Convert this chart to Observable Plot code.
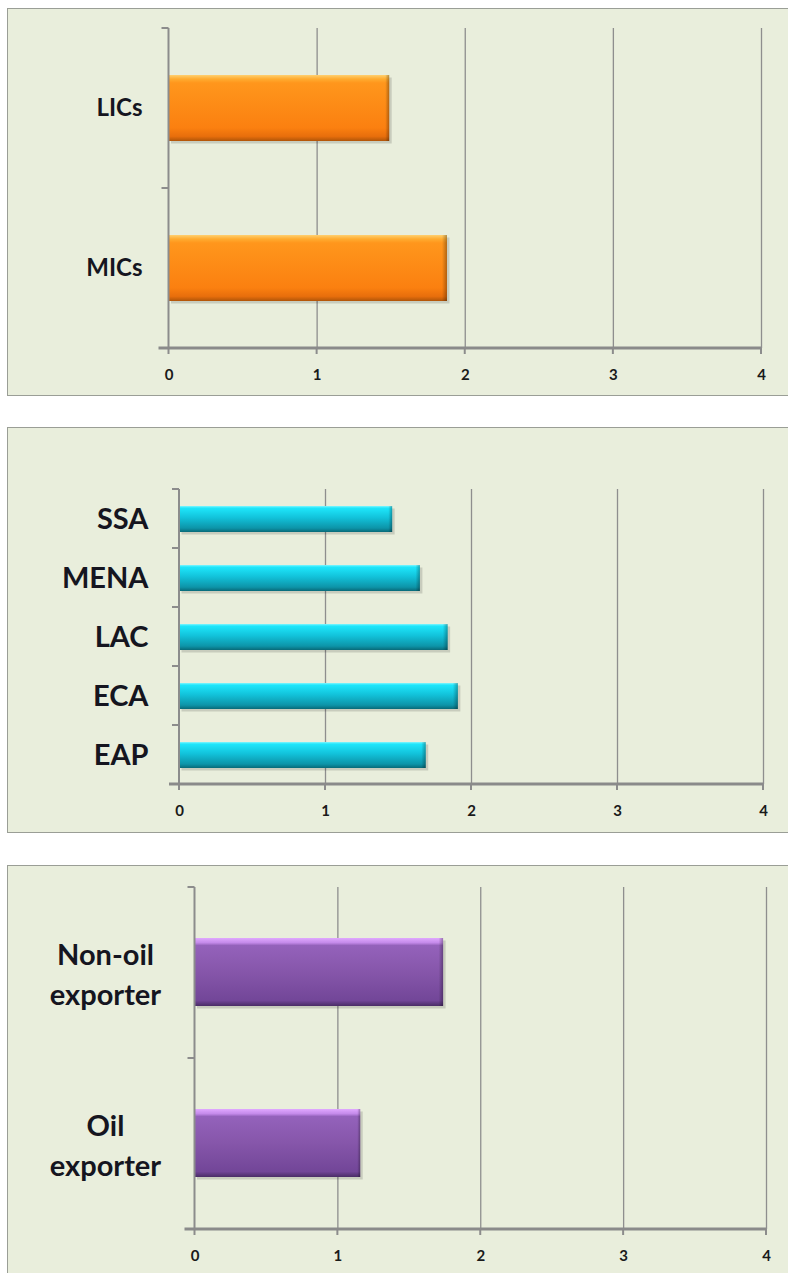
<!DOCTYPE html>
<html><head><meta charset="utf-8">
<script src="https://cdn.jsdelivr.net/npm/d3@7"></script>
<script src="https://cdn.jsdelivr.net/npm/@observablehq/plot@0.6"></script>
<style>
html,body{margin:0;padding:0;background:#fff;width:788px;height:1273px;overflow:hidden;position:relative;}
.frame{position:absolute;background:#e9eedc;border:1.5px solid #9a9e96;box-sizing:border-box;}
.chart{position:absolute;left:0;width:788px;}
.chart svg{display:block;background:transparent !important;overflow:visible;}
</style></head><body>
<div class="frame" style="left:7px;top:8px;width:800px;height:388px"></div>
<div class="frame" style="left:7px;top:427px;width:800px;height:406px"></div>
<div class="frame" style="left:7px;top:865px;width:800px;height:450px"></div>
<div id="c1" class="chart" style="top:8px"></div>
<div id="c2" class="chart" style="top:427px"></div>
<div id="c3" class="chart" style="top:865px"></div>
<script>
// ---- data ----
const xTicks = [0, 1, 2, 3, 4];
const incomeCats = ["LICs", "MICs"];
const incomeVals = [1.49, 1.88];
const regionCats = ["SSA", "MENA", "LAC", "ECA", "EAP"];
const regionVals = [1.46, 1.65, 1.84, 1.91, 1.69];
const oilCats = ["Non-oil\nexporter", "Oil\nexporter"];
const oilVals = [1.74, 1.16];

const orangeStops = [[0,"#ffd070"],[0.06,"#ffac30"],[0.12,"#ff961c"],[0.8,"#fb8010"],[0.93,"#e86e0c"],[1,"#b05508"]];
const cyanStops = [[0,"#80f6ff"],[0.08,"#1ee6fb"],[0.45,"#12c2da"],[0.85,"#0d94a8"],[1,"#086a78"]];
const purpleStops = [[0,"#e0a8ff"],[0.07,"#c48aea"],[0.11,"#9462bb"],[0.5,"#8656aa"],[0.92,"#724698"],[1,"#4a2c66"]];

const NS = "http://www.w3.org/2000/svg";
function gradientDefs(id, stops) {
  return () => {
    const defs = document.createElementNS(NS, "defs");
    const lg = document.createElementNS(NS, "linearGradient");
    lg.setAttribute("id", id);
    lg.setAttribute("x1", 0); lg.setAttribute("y1", 0); lg.setAttribute("x2", 0); lg.setAttribute("y2", 1);
    for (const [o, c] of stops) {
      const s = document.createElementNS(NS, "stop");
      s.setAttribute("offset", o); s.setAttribute("stop-color", c);
      lg.appendChild(s);
    }
    defs.appendChild(lg);
    const hg = document.createElementNS(NS, "linearGradient");
    hg.setAttribute("id", id + "h");
    hg.setAttribute("x1", 0); hg.setAttribute("y1", 0); hg.setAttribute("x2", 1); hg.setAttribute("y2", 0);
    for (const [o, c, a] of [[0,"#000",0],[0.982,"#000",0],[1,"#000",0.3]]) {
      const s = document.createElementNS(NS, "stop");
      s.setAttribute("offset", o); s.setAttribute("stop-color", c); s.setAttribute("stop-opacity", a);
      hg.appendChild(s);
    }
    defs.appendChild(hg);
    return defs;
  };
}
function axes(nCats) {
  return (index, scales, values, dim) => {
    const g = document.createElementNS(NS, "g");
    const top = dim.marginTop, bottom = dim.height - dim.marginBottom;
    const x0 = scales.x(xTicks[0]), x1 = scales.x(xTicks[xTicks.length - 1]);
    const line = (a, b, c, d, w, col) => {
      const l = document.createElementNS(NS, "line");
      l.setAttribute("x1", a); l.setAttribute("y1", b); l.setAttribute("x2", c); l.setAttribute("y2", d);
      l.setAttribute("stroke", col); l.setAttribute("stroke-width", w);
      g.appendChild(l);
    };
    const step = (bottom - top) / nCats;
    for (let i = 0; i < nCats; i++) line(x0 - 7, top + i * step, x0, top + i * step, 2, "#8c8c8c");
    line(x0, top, x0, bottom, 2, "#8c8c8c");
    for (const t of xTicks) line(scales.x(t), bottom, scales.x(t), bottom + 6, 2, "#8c8c8c");
    line(x0 - 10, bottom, x1, bottom, 3, "#8a8a8a");
    return g;
  };
}

function panel(el, cats, vals, opt) {
  const data = cats.map((c, i) => ({cat: c, val: vals[i]}));
  const chart = Plot.plot({
    width: 788,
    height: opt.height,
    marginLeft: opt.ml, marginRight: opt.mr, marginTop: opt.mt, marginBottom: opt.mb,
    style: {background: "transparent", fontFamily: "Lato, sans-serif"},
    x: {domain: [xTicks[0], xTicks[xTicks.length - 1]], axis: null, label: null},
    y: {domain: cats, paddingInner: opt.pad, paddingOuter: opt.pad / 2, axis: null, label: null},
    marks: [
      gradientDefs(opt.id, opt.stops),
      Plot.ruleX(xTicks.slice(1), {stroke: "#8e8e8e", strokeWidth: 1.3}),
      Plot.barX(data, {x: "val", y: "cat", fill: "#000", fillOpacity: 0.14, dx: 2.5, dy: 2.5}),
      Plot.barX(data, {x: "val", y: "cat", fill: `url(#${opt.id})`}),
      Plot.barX(data, {x: "val", y: "cat", fill: `url(#${opt.id}h)`}),
      axes(cats.length),
      Plot.text(data, {
        y: "cat", text: "cat", frameAnchor: "left", dx: opt.ldx, textAnchor: opt.anchor,
        lineAnchor: "middle", lineHeight: opt.lh || 1,
        fontSize: opt.fs, fontWeight: "bold", fontFamily: "Lato, sans-serif", fill: "#151520"
      }),
      Plot.axisX(xTicks, {
        tickSize: 0, tickPadding: 21, fontSize: 15, fontWeight: "bold",
        tickFormat: d3.format("d"), label: null,
        fontFamily: "Lato, sans-serif", color: "#1a1a1a"
      })
    ]
  });
  document.getElementById(el).appendChild(chart);
}

panel("c1", incomeCats, incomeVals, {
  id: "gOrange", stops: orangeStops, height: 387, ml: 168.5, mr: 27, mt: 20, mb: 47,
  pad: 0.59, ldx: -26.5, anchor: "end", fs: 24
});
panel("c2", regionCats, regionVals, {
  id: "gCyan", stops: cyanStops, height: 405, ml: 179, mr: 25, mt: 62, mb: 48,
  pad: 0.56, ldx: -31, anchor: "end", fs: 29
});
panel("c3", oilCats, oilVals, {
  id: "gPurple", stops: purpleStops, height: 408, ml: 194.5, mr: 22, mt: 22, mb: 44,
  pad: 0.6, ldx: -89.5, anchor: "middle", fs: 29, lh: 1.36
});
</script>
</body></html>
